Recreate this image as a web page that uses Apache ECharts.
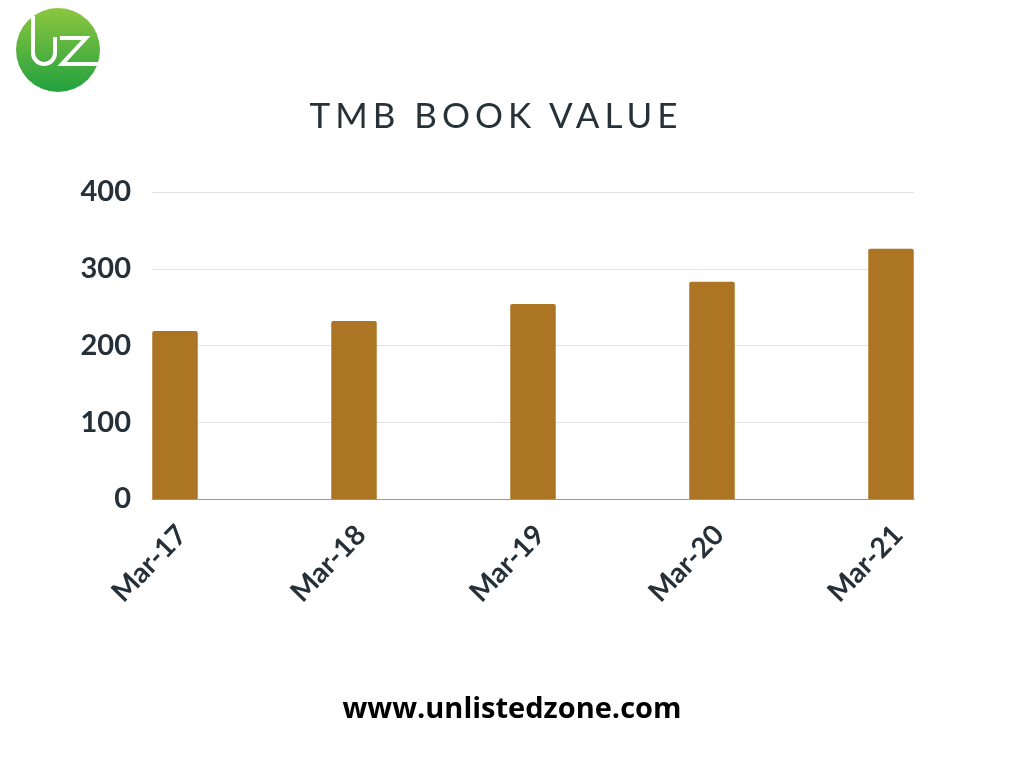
<!DOCTYPE html>
<html>
<head>
<meta charset="utf-8">
<script src="https://cdn.jsdelivr.net/npm/echarts@6/dist/echarts.min.js"></script>
<style>
html,body{margin:0;padding:0;background:#fff;}
#chart{width:1024px;height:768px;position:absolute;left:0;top:0;}
#title{position:absolute;left:-16px;width:1024px;top:93px;text-align:center;font-family:Lato,sans-serif;font-size:35px;letter-spacing:5px;color:#263238;}
</style>
</head>
<body>
<div id="chart"></div>
<div id="title">TMB BOOK VALUE</div>
<script>
const categories = ['Mar-17', 'Mar-18', 'Mar-19', 'Mar-20', 'Mar-21'];
const bookValue = [219, 232, 254, 283, 326];
const yTicks = [0, 100, 200, 300, 400];
const footerText = 'www.unlistedzone.com';

const chart = echarts.init(document.getElementById('chart'), null, {renderer: 'canvas'});
const axisMax = yTicks[yTicks.length - 1];
const labelColor = '#263038';
const white = {fill: null, stroke: '#ffffff', lineWidth: 4};

chart.setOption({
  backgroundColor: '#ffffff',
  animation: false,
  grid: [
    {left: 152, right: 110, top: 192, bottom: 269},
    {left: 175, right: 133, top: 192, bottom: 269},
    {left: 182, right: 126, top: 192, bottom: 269}
  ],
  xAxis: [
    {
      gridIndex: 0, type: 'category', data: categories,
      axisLine: {show: true, lineStyle: {color: '#9a9a9a', width: 1}},
      axisTick: {show: false}, axisLabel: {show: false}, splitLine: {show: false}
    },
    {
      gridIndex: 1, type: 'category', data: categories, boundaryGap: false,
      axisLine: {show: false}, axisTick: {show: false}, splitLine: {show: false},
      axisLabel: {show: false}
    },
    {
      gridIndex: 2, type: 'category', data: categories, boundaryGap: false,
      axisLine: {show: false}, axisTick: {show: false}, splitLine: {show: false},
      axisLabel: {
        rotate: 46, margin: 31, interval: 0,
        fontFamily: 'Lato', fontWeight: 'bold', fontSize: 28, color: labelColor
      }
    }
  ],
  yAxis: [
    {
      gridIndex: 0, type: 'value', min: 0, max: axisMax, interval: 100,
      axisLine: {show: false}, axisTick: {show: false},
      splitLine: {show: true, lineStyle: {color: '#e2e2e2', width: 1}},
      axisLabel: {
        margin: 21, fontFamily: 'Lato', fontWeight: 'bold', fontSize: 29, color: labelColor,
        formatter: function (v) { return yTicks.indexOf(v) >= 0 ? String(v) : ''; }
      }
    },
    {
      gridIndex: 1, type: 'value', min: 0, max: axisMax, interval: 100, show: false,
      splitLine: {show: false}
    },
    {
      gridIndex: 2, type: 'value', min: 0, max: axisMax, interval: 100, show: false,
      splitLine: {show: false}
    }
  ],
  series: [{
    type: 'bar', xAxisIndex: 1, yAxisIndex: 1,
    data: bookValue, barWidth: 45.5,
    itemStyle: {color: '#ab7523', borderRadius: [2, 2, 0, 0]}
  }],
  graphic: [
    {
      type: 'circle', shape: {cx: 58, cy: 50, r: 42},
      style: {fill: new echarts.graphic.LinearGradient(0, 0, 0, 1, [
        {offset: 0, color: '#8cc63f'}, {offset: 1, color: '#22a13f'}
      ])}
    },
    {type: 'line', shape: {x1: 33, y1: 16, x2: 33, y2: 53}, style: white},
    {type: 'arc', shape: {cx: 44, cy: 53, r: 11, startAngle: 0, endAngle: Math.PI, clockwise: true}, style: white},
    {type: 'line', shape: {x1: 55, y1: 53, x2: 55, y2: 37}, style: white},
    {
      type: 'polyline',
      shape: {points: [[60, 38], [86, 38], [62, 64], [100, 64]]},
      style: white
    },
    {
      type: 'text', left: 'center', top: 695,
      style: {text: footerText, fontFamily: 'Open Sans', fontWeight: 'bold', fontSize: 29, fill: '#000000'}
    }
  ]
});
</script>
</body>
</html>
